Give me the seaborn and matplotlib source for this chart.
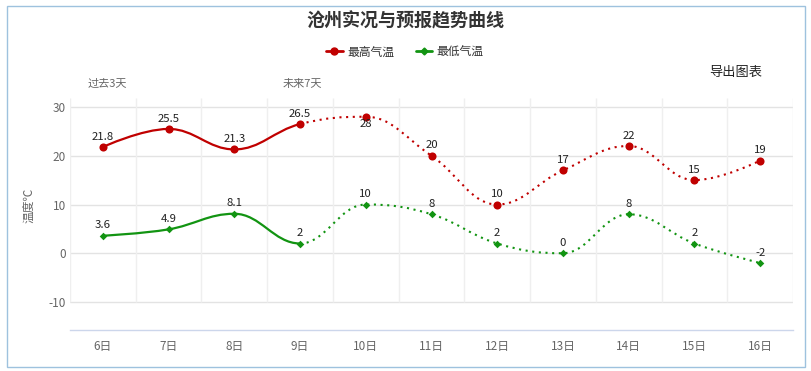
import numpy as np
import pandas as pd
import matplotlib
matplotlib.use("Agg")
import matplotlib.pyplot as plt
import seaborn as sns
from matplotlib.path import Path
from matplotlib.patches import PathPatch, Rectangle
from matplotlib.lines import Line2D

# ---------------- data ----------------
days = ["6日", "7日", "8日", "9日", "10日", "11日", "12日", "13日", "14日", "15日", "16日"]
high_temp = [21.8, 25.5, 21.3, 26.5, 28, 20, 10, 17, 22, 15, 19]
low_temp = [3.6, 4.9, 8.1, 2, 10, 8, 2, 0, 8, 2, -2]
high_labels = ["21.8", "25.5", "21.3", "26.5", "28", "20", "10", "17", "22", "15", "19"]
low_labels = ["3.6", "4.9", "8.1", "2", "10", "8", "2", "0", "8", "2", "-2"]
n_past = 4  # 6日..9日 observed (solid), rest forecast (dotted)
y_ticks = [-10, 0, 10, 20, 30]

title = "沧州实况与预报趋势曲线"
legend_names = ["最高气温", "最低气温"]
y_label = "温度℃"
past_label = "过去3天"
future_label = "未来7天"
export_label = "导出图表"

RED = "#c00000"
GREEN = "#129412"

sns.set_theme(style="white")
plt.rcParams["font.family"] = ["Noto Sans CJK SC", "DejaVu Sans"]

W, H = 811, 371
fig = plt.figure(figsize=(W / 100, H / 100), dpi=100)

# plot area in pixels
left_px, right_px, top_px, bottom_px = 70, 793, 98, 330
ax = fig.add_axes([left_px / W, 1 - bottom_px / H, (right_px - left_px) / W, (bottom_px - top_px) / H])

x = np.arange(len(days))
ax.set_xlim(-0.5, len(days) - 0.5)
# 30 at y=107px, -10 at y=302px
ppu = (302 - 107) / 40.0
ymax = 30 + (107 - top_px) / ppu
ymin = 30 - (bottom_px - 107) / ppu
ax.set_ylim(ymin, ymax)


def spline_path(xs, ys):
    """Highcharts-style spline control points."""
    n = len(xs)
    sm = 1.5
    den = sm + 1
    lc = [None] * n
    rc = [None] * n
    for i in range(1, n - 1):
        px, py = xs[i], ys[i]
        lx, ly = xs[i - 1], ys[i - 1]
        nx, ny = xs[i + 1], ys[i + 1]
        lcx = (sm * px + lx) / den
        lcy = (sm * py + ly) / den
        rcx = (sm * px + nx) / den
        rcy = (sm * py + ny) / den
        corr = 0
        if rcx != lcx:
            corr = (rcy - lcy) * (rcx - px) / (rcx - lcx) + py - rcy
        lcy += corr
        rcy += corr
        if lcy > ly and lcy > py:
            lcy = max(ly, py)
            rcy = 2 * py - lcy
        elif lcy < ly and lcy < py:
            lcy = min(ly, py)
            rcy = 2 * py - lcy
        if rcy > ny and rcy > py:
            rcy = max(ny, py)
            lcy = 2 * py - rcy
        elif rcy < ny and rcy < py:
            rcy = min(ny, py)
            lcy = 2 * py - rcy
        lc[i] = (lcx, lcy)
        rc[i] = (rcx, rcy)
    segs = []
    for i in range(1, n):
        c1 = rc[i - 1] if rc[i - 1] is not None else (xs[i - 1], ys[i - 1])
        c2 = lc[i] if lc[i] is not None else (xs[i], ys[i])
        segs.append(((xs[i - 1], ys[i - 1]), c1, c2, (xs[i], ys[i])))
    return segs


def make_path(segs):
    verts, codes = [], []
    for k, (p0, c1, c2, p1) in enumerate(segs):
        if k == 0:
            verts.append(p0)
            codes.append(Path.MOVETO)
        verts += [c1, c2, p1]
        codes += [Path.CURVE4] * 3
    return Path(verts, codes)


for vals, color in [(high_temp, RED), (low_temp, GREEN)]:
    segs = spline_path(list(x.astype(float)), list(map(float, vals)))
    solid = make_path(segs[: n_past - 1])
    dotted = make_path(segs[n_past - 1:])
    ax.add_patch(PathPatch(solid, fill=False, edgecolor=color, lw=1.6, zorder=3, capstyle="round"))
    ax.add_patch(PathPatch(dotted, fill=False, edgecolor=color, lw=1.5, linestyle=(0, (1, 2.2)), zorder=3))

df = pd.DataFrame({"day": x, "high": high_temp, "low": low_temp})
sns.scatterplot(data=df, x="day", y="high", ax=ax, color=RED, s=34, marker="o", edgecolor=RED, linewidth=0, zorder=4)
sns.scatterplot(data=df, x="day", y="low", ax=ax, color=GREEN, s=15, marker="D", edgecolor=GREEN, linewidth=0, zorder=4)

# data labels
for i in range(len(days)):
    dy = -5.5 if (high_temp[i] >= 28) else 7.5
    ax.annotate(high_labels[i], (x[i], high_temp[i]), xytext=(0, dy), textcoords="offset points",
                ha="center", va="center", fontsize=8.2, color="#222222", zorder=5)
    ax.annotate(low_labels[i], (x[i], low_temp[i]), xytext=(0, 7.5), textcoords="offset points",
                ha="center", va="center", fontsize=8.2, color="#222222", zorder=5)

# grid
ax.set_yticks(y_ticks)
ax.set_yticklabels([str(t) for t in y_ticks])
for t in y_ticks:
    ax.axhline(t, color="#e3e3e3", lw=1, zorder=1)
bounds = np.arange(len(days) + 1) - 0.5
ax.vlines(bounds, -10, ymax, color="#efefef", lw=1, zorder=1)

ax.set_xticks(x)
ax.set_xticklabels(days)
ax.set_xticks(bounds, minor=True)
ax.tick_params(axis="x", which="major", length=0, pad=7, labelsize=8.5, labelcolor="#666666")
ax.tick_params(axis="x", which="minor", length=6, width=1, color="#ccd6eb", direction="out")
ax.tick_params(axis="y", length=0, pad=3, labelsize=8.5, labelcolor="#666666")
ax.set_xlabel("")
ax.set_ylabel("")
for s in ["top", "left", "right"]:
    ax.spines[s].set_visible(False)
ax.spines["bottom"].set_color("#ccd6eb")
ax.spines["bottom"].set_linewidth(1)

# texts
fig.text(405 / W, 1 - 21 / H, title, ha="center", va="center", fontsize=13, fontweight="bold", color="#333333")
fig.text(29 / W, 1 - 205 / H, y_label, ha="center", va="center", rotation=90, fontsize=8.5, color="#666666")
fig.text(88 / W, 1 - 84 / H, past_label, ha="left", va="center", fontsize=8, color="#666666")
fig.text(283 / W, 1 - 84 / H, future_label, ha="left", va="center", fontsize=8, color="#666666")
fig.text(709 / W, 1 - 72 / H, export_label, ha="left", va="center", fontsize=9.5, color="#222222")

handles = [Line2D([], [], color=RED, lw=2, marker="o", markersize=5),
           Line2D([], [], color=GREEN, lw=2, marker="D", markersize=3.5)]
fig.legend(handles, legend_names, loc="center", bbox_to_anchor=(405 / W, 1 - 52 / H), ncol=2,
           frameon=False, fontsize=8.5, handlelength=1.4, handletextpad=0.4, columnspacing=1.8,
           labelcolor="#333333")

# outer border
fig.patches.append(Rectangle((7 / W, 1 - 367 / H), (805 - 7) / W, (367 - 6) / H, transform=fig.transFigure,
                             fill=False, edgecolor="#9ec2de", lw=1))

fig.savefig("out.png", dpi=100)
